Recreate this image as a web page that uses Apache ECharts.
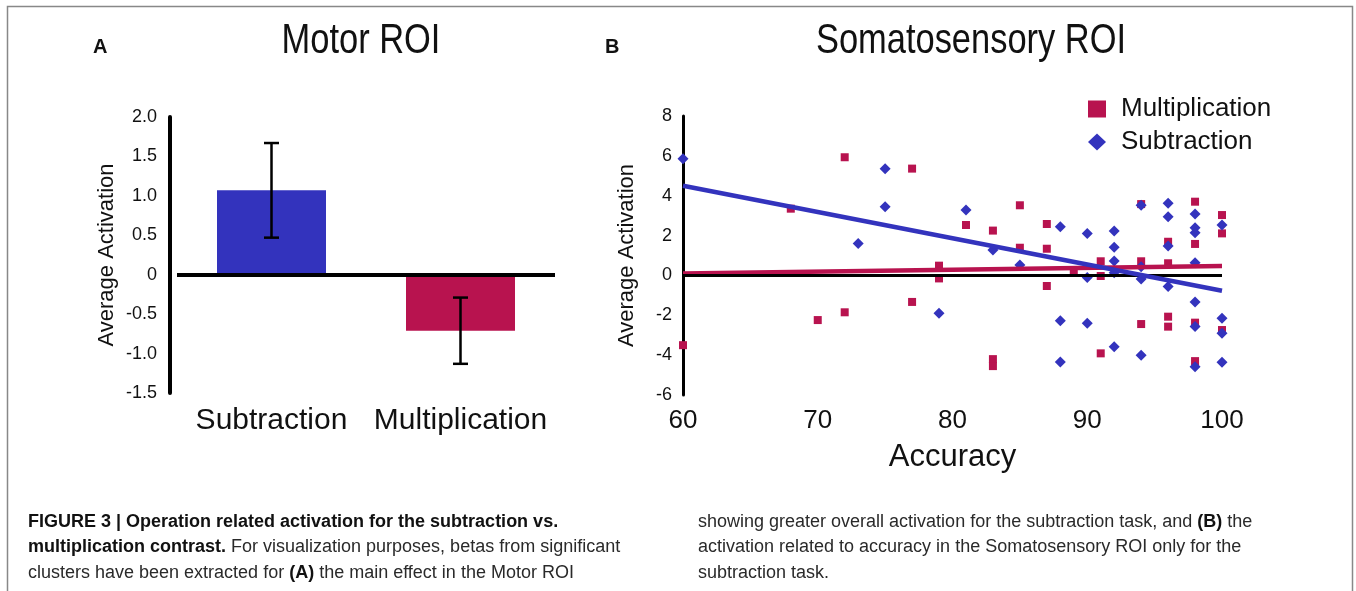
<!DOCTYPE html>
<html>
<head>
<meta charset="utf-8">
<title>Figure 3</title>
<script src="https://cdn.jsdelivr.net/npm/echarts@6/dist/echarts.min.js"></script>
<style>
  html, body { margin: 0; padding: 0; background: #fff; }
  #chart { width: 1356px; height: 591px; }
</style>
</head>
<body>
<div id="chart"></div>
<script>
// panel A: Motor ROI
var barCategories = ['Subtraction', 'Multiplication'];
var barValues = [1.07, -0.71];
var barErrors = [0.6, 0.42];

// panel B: Somatosensory ROI, accuracy vs activation
var subAccuracy = [60, 75, 75, 73, 79, 81, 83, 85, 88, 88, 88, 90, 90, 90, 92, 92, 92, 92, 92,
  94, 94, 94, 94, 96, 96, 96, 96, 98, 98, 98, 98, 98, 98, 98, 100, 100, 100, 100];
var subActivation = [5.85, 5.35, 3.45, 1.6, -1.9, 3.28, 1.27, 0.52, 2.44, -2.27, -4.35, 2.11, -0.1, -2.4, 2.23, 1.41, 0.72, 0.14, -3.58,
  3.52, 0.44, -0.18, -4.0, 3.62, 2.95, 1.48, -0.56, 3.08, 2.39, 2.14, 0.64, -1.33, -2.56, -4.58, 2.53, -2.15, -2.9, -4.36];
var mulAccuracy = [60, 68, 70, 72, 72, 77, 77, 79, 79, 81, 83, 83, 83, 85, 85, 87, 87, 87, 89,
  91, 91, 91, 94, 94, 94, 96, 96, 96, 96, 98, 98, 98, 98, 100, 100, 100];
var mulActivation = [-3.5, 3.35, -2.24, 5.93, -1.85, 5.36, -1.33, 0.49, -0.15, 2.53, 2.25, -4.2, -4.55, 3.52, 1.39, 2.58, 1.34, -0.53, 0.19,
  0.71, -0.03, -3.91, 3.58, 0.71, -2.44, 1.69, 0.61, -2.07, -2.57, 3.7, 1.58, -2.37, -4.3, 3.03, 2.11, -2.74];
// fitted lines (end points)
var trendAccuracy = [60, 100];
var subTrend = [4.5, -0.77];
var mulTrend = [0.1, 0.47];

var BLUE = '#3333bd';
var RED = '#b8134f';
var FONT = '"Liberation Sans", Arial, sans-serif';

function zip(xs, ys) {
  return xs.map(function (x, i) { return [x, ys[i]]; });
}

var chart = echarts.init(document.getElementById('chart'));

var option = {
  animation: false,
  backgroundColor: '#fff',
  textStyle: { fontFamily: FONT, color: '#111' },
  legend: {
    data: ['Multiplication', 'Subtraction'],
    orient: 'vertical',
    left: 1088,
    top: 96,
    padding: 0,
    itemWidth: 18,
    itemHeight: 17,
    itemGap: 7,
    textStyle: { fontFamily: FONT, fontSize: 26, color: '#111', padding: [0, 0, 0, 10] }
  },
  grid: [
    { left: 177, top: 117, width: 378, height: 276 },
    { left: 683, top: 116, width: 539, height: 279 }
  ],
  xAxis: [
    {
      gridIndex: 0,
      type: 'category',
      data: barCategories,
      axisLine: { show: false, onZero: false },
      axisTick: { show: false },
      axisLabel: { interval: 0, fontFamily: FONT, fontSize: 30, color: '#111', margin: 13 }
    },
    {
      gridIndex: 1,
      type: 'value',
      min: 60, max: 100, interval: 10,
      splitLine: { show: false },
      axisLine: { show: false, onZero: false },
      axisTick: { show: false },
      axisLabel: { fontFamily: FONT, fontSize: 26, color: '#111', margin: 13 },
      name: 'Accuracy',
      nameLocation: 'middle',
      nameGap: 47,
      nameTextStyle: { fontFamily: FONT, fontSize: 31, color: '#111' }
    }
  ],
  yAxis: [
    {
      gridIndex: 0,
      type: 'value',
      min: -1.5, max: 2, interval: 0.5,
      offset: 7,
      splitLine: { show: false },
      axisLine: { show: true, lineStyle: { color: '#000', width: 4 } },
      axisTick: { show: false },
      axisLabel: {
        fontFamily: FONT, fontSize: 18, color: '#111', margin: 13,
        formatter: function (v) { return v === 0 ? '0' : v.toFixed(1); }
      },
      name: 'Average Activation',
      nameLocation: 'middle',
      nameGap: 52,
      nameTextStyle: { fontFamily: FONT, fontSize: 22, color: '#111' }
    },
    {
      gridIndex: 1,
      type: 'value',
      min: -6, max: 8, interval: 2,
      splitLine: { show: false },
      axisLine: { show: true, lineStyle: { color: '#000', width: 3 } },
      axisTick: { show: false },
      axisLabel: { fontFamily: FONT, fontSize: 18, color: '#111', margin: 11 },
      name: 'Average Activation',
      nameLocation: 'middle',
      nameGap: 45,
      nameTextStyle: { fontFamily: FONT, fontSize: 22, color: '#111' }
    }
  ],
  series: [
    {
      name: 'Motor ROI',
      type: 'bar',
      xAxisIndex: 0, yAxisIndex: 0,
      barWidth: 109,
      data: barValues.map(function (v, i) {
        return { value: v, itemStyle: { color: i === 0 ? BLUE : RED } };
      }),
      markLine: {
        silent: true,
        symbol: 'none',
        label: { show: false },
        lineStyle: { color: '#000', width: 4, type: 'solid' },
        data: [{ yAxis: 0 }]
      }
    },
    {
      name: 'Motor ROI error',
      type: 'custom',
      xAxisIndex: 0, yAxisIndex: 0,
      data: barValues.map(function (v, i) { return [i, v - barErrors[i], v + barErrors[i]]; }),
      encode: { x: 0, y: [1, 2] },
      renderItem: function (params, api) {
        var lo = api.coord([api.value(0), api.value(1)]);
        var hi = api.coord([api.value(0), api.value(2)]);
        var half = 7.5;
        var st = { stroke: '#000', lineWidth: 2.5 };
        return {
          type: 'group',
          children: [
            { type: 'line', shape: { x1: lo[0], y1: lo[1], x2: hi[0], y2: hi[1] }, style: st },
            { type: 'line', shape: { x1: lo[0] - half, y1: lo[1], x2: lo[0] + half, y2: lo[1] }, style: st },
            { type: 'line', shape: { x1: hi[0] - half, y1: hi[1], x2: hi[0] + half, y2: hi[1] }, style: st }
          ]
        };
      },
      z: 5
    },
    {
      name: 'Multiplication',
      type: 'scatter',
      xAxisIndex: 1, yAxisIndex: 1,
      symbol: 'rect',
      symbolSize: 8,
      itemStyle: { color: RED, opacity: 1 },
      data: zip(mulAccuracy, mulActivation),
      markLine: {
        silent: true,
        symbol: 'none',
        label: { show: false },
        lineStyle: { color: '#000', width: 3, type: 'solid' },
        data: [{ yAxis: 0 }]
      },
      z: 2
    },
    {
      name: 'Subtraction',
      type: 'scatter',
      xAxisIndex: 1, yAxisIndex: 1,
      symbol: 'diamond',
      symbolSize: [11, 11],
      itemStyle: { color: BLUE, opacity: 1 },
      data: zip(subAccuracy, subActivation),
      z: 3
    },
    {
      name: 'Multiplication fit',
      type: 'line',
      xAxisIndex: 1, yAxisIndex: 1,
      symbol: 'none',
      lineStyle: { color: RED, width: 4.5 },
      data: zip(trendAccuracy, mulTrend),
      z: 4
    },
    {
      name: 'Subtraction fit',
      type: 'line',
      xAxisIndex: 1, yAxisIndex: 1,
      symbol: 'none',
      lineStyle: { color: BLUE, width: 4.5 },
      data: zip(trendAccuracy, subTrend),
      z: 5
    }
  ],
  graphic: [
    {
      type: 'rect', silent: true,
      shape: { x: 7.5, y: 6.5, width: 1345, height: 700 },
      style: { fill: 'none', stroke: '#888', lineWidth: 1.5 }
    },
    // panel titles, narrowed to match the condensed face of the original
    {
      type: 'text', x: 361, y: 41, scaleX: 0.82, silent: true,
      style: { text: 'Motor ROI', fontFamily: FONT, fontSize: 42, fill: '#111',
        textAlign: 'center', textVerticalAlign: 'middle' }
    },
    {
      type: 'text', x: 971, y: 41, scaleX: 0.82, silent: true,
      style: { text: 'Somatosensory ROI', fontFamily: FONT, fontSize: 42, fill: '#111',
        textAlign: 'center', textVerticalAlign: 'middle' }
    },
    {
      type: 'text', left: 93, top: 37, silent: true,
      style: { text: 'A', fontFamily: FONT, fontSize: 20, fontWeight: 'bold', fill: '#111' }
    },
    {
      type: 'text', left: 605, top: 37, silent: true,
      style: { text: 'B', fontFamily: FONT, fontSize: 20, fontWeight: 'bold', fill: '#111' }
    },
    {
      type: 'text', left: 28, top: 509, silent: true,
      style: {
        text: '{b|FIGURE 3 | Operation related activation for the subtraction vs.}\n' +
              '{b|multiplication contrast.} For visualization purposes, betas from significant\n' +
              'clusters have been extracted for {b|(A)} the main effect in the Motor ROI',
        fontFamily: FONT, fontSize: 18, lineHeight: 25.5, fill: '#2a2a2a',
        rich: { b: { fontFamily: FONT, fontSize: 18, fontWeight: 'bold', lineHeight: 25.5, fill: '#111' } }
      }
    },
    {
      type: 'text', left: 698, top: 509, silent: true,
      style: {
        text: 'showing greater overall activation for the subtraction task, and {b|(B)} the\n' +
              'activation related to accuracy in the Somatosensory ROI only for the\n' +
              'subtraction task.',
        fontFamily: FONT, fontSize: 18, lineHeight: 25.5, fill: '#2a2a2a',
        rich: { b: { fontFamily: FONT, fontSize: 18, fontWeight: 'bold', lineHeight: 25.5, fill: '#111' } }
      }
    }
  ]
};

chart.setOption(option);
</script>
</body>
</html>
